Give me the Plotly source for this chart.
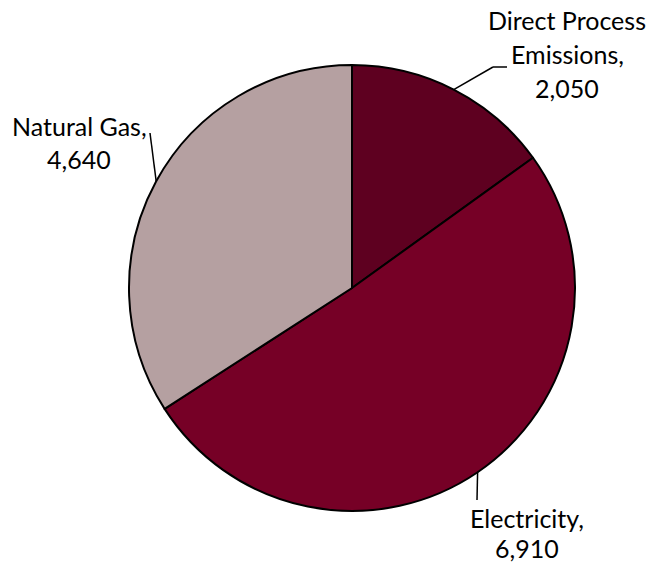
import math
import plotly.graph_objects as go

# Data
categories = ["Direct Process Emissions", "Electricity", "Natural Gas"]
values = [2050, 6910, 4640]
label_lines = [["Direct Process", "Emissions,", "2,050"],
               ["Electricity,", "6,910"],
               ["Natural Gas,", "4,640"]]
colors = ["#5E0020", "#760026", "#B5A0A1"]

W, H = 646, 564
CX, CY, R = 352, 288, 223

def px(x):
    return x / W

def py(y):
    return 1 - y / H

fig = go.Figure(go.Pie(
    labels=categories,
    values=values,
    sort=False,
    direction="clockwise",
    rotation=0,
    textinfo="none",
    hoverinfo="label+value",
    marker=dict(colors=colors, line=dict(color="black", width=2)),
    domain=dict(x=[px(CX - R), px(CX + R)], y=[py(CY + R), py(CY - R)]),
    showlegend=False,
))

# leader-line elbows and label placement (layout only)
label_layout = [
    dict(elbow=[(493, 67), (507, 67)], text_xy=(567, 20), dy=34),
    dict(elbow=[(477, 500)], text_xy=(527, 518), dy=30),
    dict(elbow=[(150, 133)], text_xy=(79, 126), dy=33),
]

total = sum(values)
cum = 0
shapes = []
annotations = []
for v, lines, lay in zip(values, label_lines, label_layout):
    mid = (cum + v / 2) / total * 2 * math.pi
    cum += v
    ex = CX + R * math.sin(mid)
    ey = CY - R * math.cos(mid)
    pts = [(ex, ey)] + lay["elbow"]
    for (x0, y0), (x1, y1) in zip(pts[:-1], pts[1:]):
        shapes.append(dict(type="line", xref="paper", yref="paper",
                           x0=px(x0), y0=py(y0), x1=px(x1), y1=py(y1),
                           line=dict(color="black", width=1.5)))
    tx, ty = lay["text_xy"]
    for i, t in enumerate(lines):
        annotations.append(dict(text=t, x=px(tx), y=py(ty + i * lay["dy"]),
                                xref="paper", yref="paper", showarrow=False,
                                xanchor="center", yanchor="middle",
                                font=dict(family="Lato", size=25, color="black")))

fig.update_layout(
    width=W, height=H,
    margin=dict(l=0, r=0, t=0, b=0),
    paper_bgcolor="white",
    plot_bgcolor="white",
    shapes=shapes,
    annotations=annotations,
)

fig.write_html("out.html", config={"displayModeBar": False},
               post_script="document.body.style.margin='0';")
